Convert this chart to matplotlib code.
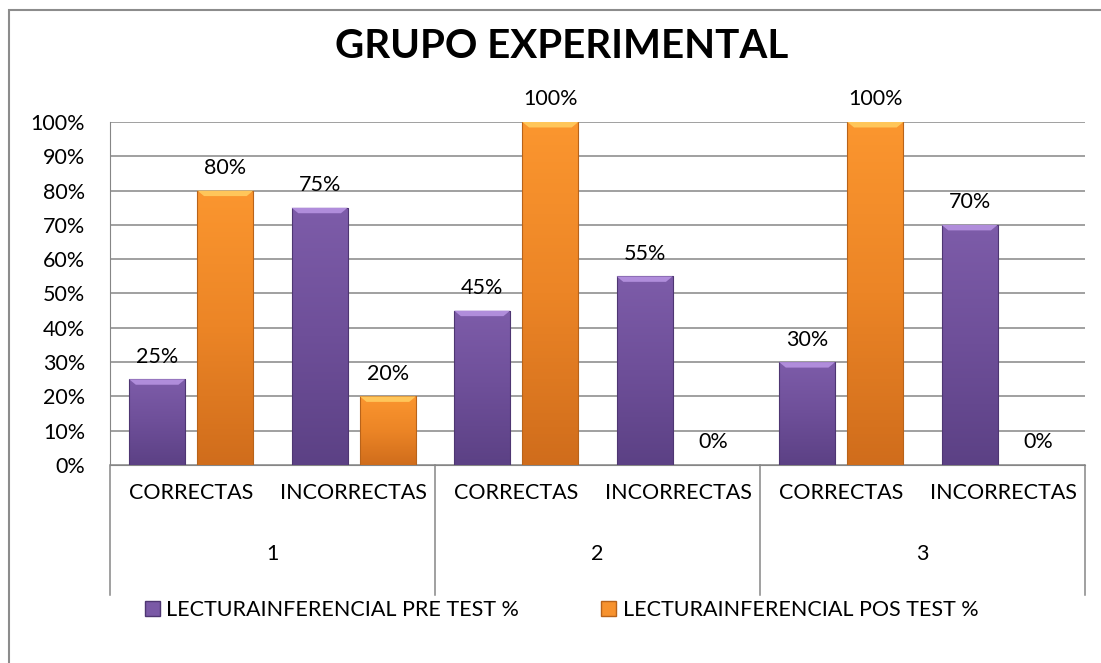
import numpy as np
import matplotlib.pyplot as plt
from matplotlib.lines import Line2D
from matplotlib.patches import Rectangle, Polygon
from matplotlib.colors import LinearSegmentedColormap

# datos del grafico
grupos = ['1', '2', '3']
categorias = ['CORRECTAS', 'INCORRECTAS'] * 3
pre_test = [25, 75, 45, 55, 30, 70]
pos_test = [80, 20, 100, 0, 100, 0]
series = ['LECTURAINFERENCIAL PRE TEST %', 'LECTURAINFERENCIAL POS TEST %']

plt.rcParams['font.family'] = ['Lato', 'DejaVu Sans']
fs = 15.5

fig = plt.figure(figsize=(11.01, 6.63), dpi=100)
ax = fig.add_axes([110 / 1101, 1 - 465 / 663, 975 / 1101, 343 / 663])

# borde exterior del grafico (solo se ven arriba e izquierda)
fig.patches.append(Rectangle((9 / 1101, -0.05), 1.2, 1 - 10 / 663 + 0.05,
                             transform=fig.transFigure, fill=False,
                             edgecolor='#8c8c8c', lw=1.5))

x = np.arange(len(categorias))
ancho = 0.345
desp = 0.21

# de abajo (0) hacia arriba (1)
morado = LinearSegmentedColormap.from_list('m', ['#5c4185', '#6e4f99', '#7d5ca9'])
naranja = LinearSegmentedColormap.from_list('n', ['#d06d1c', '#ec8526', '#fb962f'])


def barra(xc, h, cmap, claro, oscuro):
    if h <= 0:
        return
    x0, x1 = xc - ancho / 2, xc + ancho / 2
    grad = np.linspace(0, 1, 100).reshape(-1, 1)
    im = ax.imshow(grad, cmap=cmap, aspect='auto', origin='lower',
                   extent=(x0, x1, 0, h), zorder=3)
    rect = Rectangle((x0, 0), ancho, h, facecolor='none', edgecolor=oscuro,
                     lw=0.8, zorder=4)
    ax.add_patch(rect)
    im.set_clip_path(rect)
    # bisel superior
    b = 1.6
    bx = ancho * 0.12
    ax.add_patch(Polygon([(x0, h), (x1, h), (x1 - bx, h - b), (x0 + bx, h - b)],
                         closed=True, facecolor=claro, edgecolor='none',
                         zorder=4))


for i in range(len(categorias)):
    barra(x[i] - desp, pre_test[i], morado, '#b08ddb', '#4e3672')
    barra(x[i] + desp, pos_test[i], naranja, '#ffc65a', '#b8631a')
    ax.annotate(f'{pre_test[i]}%', (x[i] - desp, pre_test[i]), xytext=(0, 9),
                textcoords='offset points', ha='center', va='bottom',
                fontsize=fs)
    ax.annotate(f'{pos_test[i]}%', (x[i] + desp, pos_test[i]), xytext=(0, 9),
                textcoords='offset points', ha='center', va='bottom',
                fontsize=fs)

ax.set_xlim(-0.5, len(categorias) - 0.5)
ax.set_ylim(0, 100)
ax.set_yticks(range(0, 101, 10))
ax.set_yticklabels([f'{v}%' for v in range(0, 101, 10)], fontsize=fs)
ax.yaxis.grid(True, color='#868686', lw=1.1)
ax.set_axisbelow(True)
ax.tick_params(axis='y', length=0, pad=18)
for s in ['top', 'right']:
    ax.spines[s].set_visible(False)
ax.spines['left'].set_color('#868686')
ax.spines['bottom'].set_color('#868686')

ax.set_xticks(x)
ax.set_xticklabels(categorias, fontsize=fs)
ax.tick_params(axis='x', length=0, pad=13)

# eje de categorias de dos niveles
for k in range(4):
    xs = k * 2 - 0.5
    ax.add_line(Line2D([xs, xs], [0, -38], color='#868686', lw=1.1,
                       clip_on=False))
for j, g in enumerate(grupos):
    ax.text(j * 2 + 0.5, -26, g, ha='center', va='center', fontsize=fs)

fig.text(0.51, 1 - 46 / 663, 'GRUPO EXPERIMENTAL', fontsize=29,
         fontweight='bold', ha='center', va='center')

h1 = Rectangle((0, 0), 1, 1, facecolor='#7a59a6', edgecolor='#4e3672')
h2 = Rectangle((0, 0), 1, 1, facecolor='#f7922e', edgecolor='#b8631a')
fig.legend([h1, h2], series, loc='center', bbox_to_anchor=(0.51, 1 - 610 / 663),
           ncol=2, frameon=False, fontsize=fs, handlelength=0.7,
           handleheight=0.7, handletextpad=0.3, columnspacing=3.8)

fig.savefig('out.png', dpi=100)
